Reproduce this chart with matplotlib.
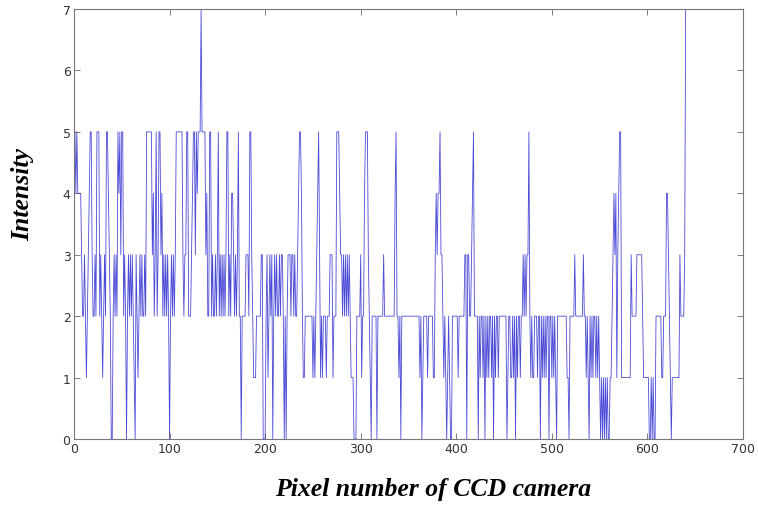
import matplotlib
matplotlib.use("Agg")
import matplotlib.pyplot as plt
import numpy as np

# Intensity value per CCD pixel (0..640), in blocks of 10
intensity_blocks = [
    "3545444432", "2321234553", "2232555232", "1232554320", "0232325453",
    "5523202323", "2321032123", "2322325555", "5534235235", "5342323232",
    "0232323555", "5555323355", "2223455354", "5557555534", "2255232232",
    "3523232323", "5523244323", "2352202222", "3332553211", "1222223300",
    "0231232302", "3232232332", "0202333233", "2322345542", "1122222222",
    "1212345312", "1222122233", "3122255543", "3232323232", "1110002222",
    "3122455532", "1022222022", "2222322222", "2222224522", "1202222222",
    "2222222222", "2212012222", "1222221134", "3445332121", "0121002222",
    "2212222223", "3033223452", "2220212212", "0212122120", "2122122222",
    "2220122112", "1202122122", "3232335212", "1122212202", "1212122022",
    "1212102222", "2222221102", "2222322222", "2223221210", "2121221212",
    "1010101010", "0112343413", "4551111111", "1113222223", "3333321111",
    "1100101002", "2222211222", "4432101111", "1111322223", "7",
]
intensity = [int(c) for block in intensity_blocks for c in block]
pixels = list(range(len(intensity)))

x_ticks = [0, 100, 200, 300, 400, 500, 600, 700]
y_ticks = [0, 1, 2, 3, 4, 5, 6, 7]
x_label = "Pixel number of CCD camera"
y_label = "Intensity"

fig = plt.figure(figsize=(7.58, 5.06), dpi=100)
ax = fig.add_axes([0.0976, 0.1304, 0.8826, 0.8498])
ax.plot(pixels, intensity, color="#2b2bd0", lw=0.6, alpha=0.85)

ax.set_xlim(0, 700)
ax.set_ylim(0, 7)
ax.set_xticks(x_ticks)
ax.set_yticks(y_ticks)
ax.tick_params(direction="in", length=4, width=0.6, colors="#666666",
               labelcolor="#333333", labelsize=9, top=True, right=True,
               pad=2.5)
for s in ax.spines.values():
    s.set_color("#777777")
    s.set_linewidth(0.8)
for lbl in ax.get_xticklabels() + ax.get_yticklabels():
    lbl.set_family("DejaVu Sans")

fig.text(0.571, 0.033, x_label, family="Liberation Serif", style="italic",
         weight="bold", fontsize=18.5, ha="center", va="center")
fig.text(0.030, 0.615, y_label, family="Liberation Serif", style="italic",
         weight="bold", fontsize=18.5, ha="center", va="center", rotation=90)

fig.savefig("out.png", dpi=100)
